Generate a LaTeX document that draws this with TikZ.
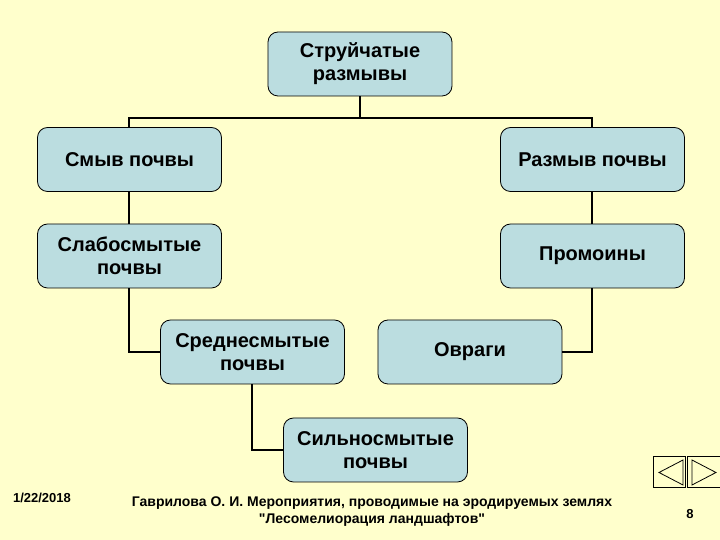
\documentclass[tikz,border=0pt]{standalone}
\usepackage{fontspec}
\setmainfont{Liberation Sans}[Ligatures=TeXOff]
\begin{document}
\begin{tikzpicture}[x=0.5pt,y=-0.5pt,
  box/.style={draw=black,fill=boxc,rounded corners=5pt,line width=0.4pt,minimum width=92pt,minimum height=32pt,align=center,font=\fontsize{10}{11.5}\selectfont\bfseries,inner sep=1pt},
  link/.style={line width=1pt}]
\definecolor{bgc}{HTML}{FFFFCC}
\definecolor{boxc}{HTML}{BBDDE0}
\fill[bgc] (0,0) rectangle (720,540);
\useasboundingbox (0,0) rectangle (720,540);
\node[box] (top) at (360,64) {Струйчатые\\размывы};
\node[box] (smyv) at (129.5,159.5) {Смыв почвы};
\node[box] (razm) at (592.5,159.5) {Размыв почвы};
\node[box] (slab) at (129.5,256) {Слабосмытые\\почвы};
\node[box] (prom) at (592.5,256) {Промоины};
\node[box] (sred) at (252.5,352) {Среднесмытые\\почвы};
\node[box] (ovr) at (470,352) {Овраги};
\node[box] (sil) at (375.5,450) {Сильносмытые\\почвы};
\coordinate (j) at (360,118);
\draw[link] (top.south) -- (j);
\draw[link] (smyv.north) |- (j) -| (razm.north);
\draw[link] (smyv.south) -- (slab.north);
\draw[link] (razm.south) -- (prom.north);
\draw[link] (slab.south) |- (sred.west);
\draw[link] (prom.south) |- (ovr.east);
\draw[link] (sred.south) |- (sil.west);
\node[font=\fontsize{6.5}{8}\selectfont\bfseries] (date) at (42,498) {1/22/2018};
\node[font=\fontsize{7}{8.5}\selectfont\bfseries,align=center] (foot) at (372,512) {Гаврилова О. И. Мероприятия, проводимые на эродируемых землях\\"Лесомелиорация ландшафтов"};
\node[font=\fontsize{6.5}{8}\selectfont\bfseries] (pg) at (690,514) {8};
\draw[line width=0.5pt] (654,457) rectangle (686,488);
\draw[line width=0.5pt] (688,457) rectangle (722,488);
\draw[line width=0.4pt] (683,460) -- (659,472.5) -- (683,485) -- cycle;
\draw[line width=0.4pt] (692,460) -- (716,472.5) -- (692,485) -- cycle;
\end{tikzpicture}
\end{document}
